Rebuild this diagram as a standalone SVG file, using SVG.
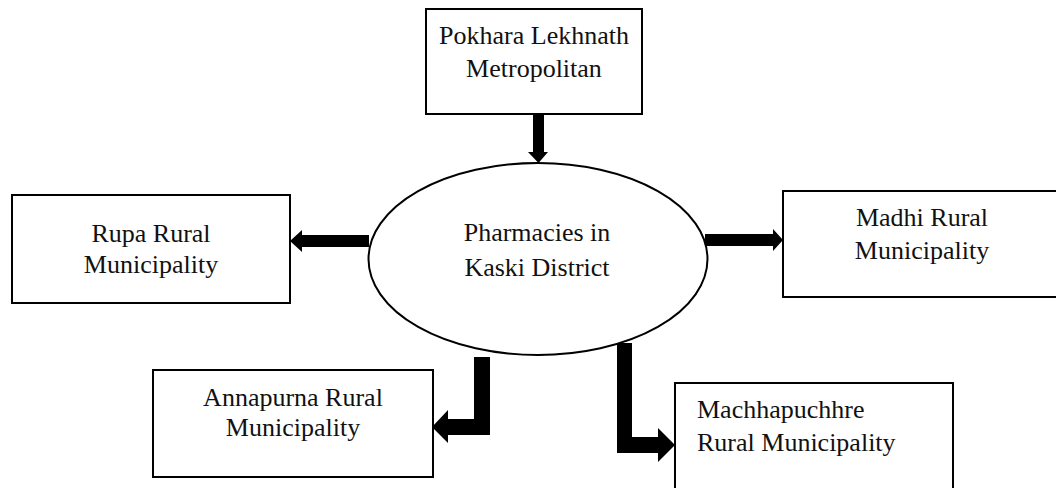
<svg xmlns="http://www.w3.org/2000/svg" width="1056" height="488" viewBox="0 0 1056 488">
<style>
.box{fill:#fff;stroke:#000;stroke-width:2}
.ell{fill:#fff;stroke:#000;stroke-width:2}
.t{font-family:"Liberation Serif","Times New Roman",serif;font-size:26px;fill:#111}
.c{text-anchor:middle}
.arr{fill:#000;stroke:none}
</style>
<rect width="1056" height="488" fill="#fff"/>
<g id="connectors">
<polygon class="arr" points="533,114 544,114 544,152 548,152 538.5,163 528,152 533,152"/>
<polygon class="arr" points="369,235 369,247 302,247 302,252 290,241 302,230 302,235"/>
<polygon class="arr" points="705,234 773,234 773,229 783,240 773,251 773,246 705,246"/>
<polygon class="arr" points="474,357 490,357 490,435 448,435 448,443 432,427 448,410 448,419 474,419"/>
<polygon class="arr" points="617,343 632,343 632,437 658,437 658,428 675,445 658,462 658,453 617,453"/>
</g>
<g id="node-pokhara">
<rect class="box" x="426" y="9" width="216" height="105"/>
<text class="t c" x="534" y="44">Pokhara Lekhnath</text>
<text class="t c" x="534" y="77">Metropolitan</text>
</g>
<g id="node-center">
<ellipse class="ell" cx="538" cy="259" rx="169.5" ry="96"/>
<text class="t c" x="537" y="241">Pharmacies in</text>
<text class="t c" x="537" y="276">Kaski District</text>
</g>
<g id="node-rupa">
<rect class="box" x="12" y="195" width="278" height="108"/>
<text class="t c" x="151" y="242">Rupa Rural</text>
<text class="t c" x="151" y="273">Municipality</text>
</g>
<g id="node-madhi">
<rect class="box" x="783" y="191" width="278" height="106"/>
<text class="t c" x="922" y="226">Madhi Rural</text>
<text class="t c" x="922" y="259">Municipality</text>
</g>
<g id="node-annapurna">
<rect class="box" x="153" y="370" width="280" height="107"/>
<text class="t c" x="293" y="406">Annapurna Rural</text>
<text class="t c" x="293" y="436">Municipality</text>
</g>
<g id="node-machhapuchhre">
<rect class="box" x="675" y="383" width="278" height="112"/>
<text class="t" x="697" y="418">Machhapuchhre</text>
<text class="t" x="697" y="451">Rural Municipality</text>
</g>
</svg>
